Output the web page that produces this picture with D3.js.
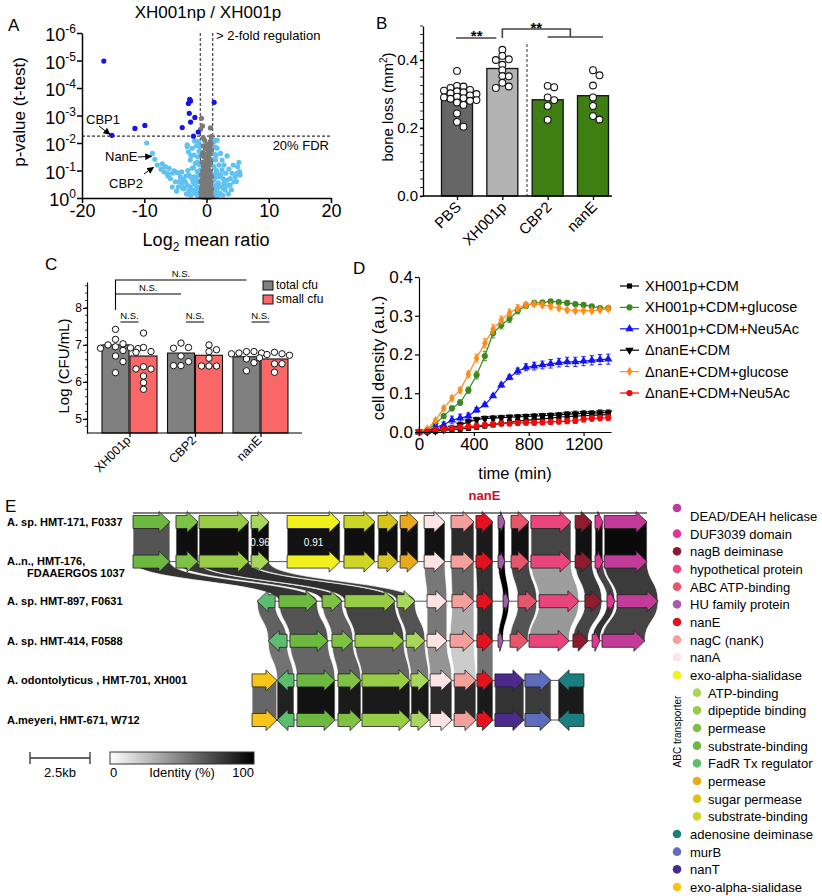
<!DOCTYPE html>
<html><head><meta charset="utf-8">
<script src="https://cdn.jsdelivr.net/npm/d3@7"></script>
<style>body{margin:0;background:#fff}svg{display:block}text{font-family:Arial,"Liberation Sans",sans-serif}</style>
</head><body><svg id="fig" width="822" height="896"></svg>
<script>
// ================= DATA =================
// Panel A: volcano plot  [log2 mean ratio, -log10 p]
const volcanoXTicks = [-20,-10,0,10,20];
const volcanoYTicks = [0,1,2,3,4,5,6];
const foldLines = [-1,1];
const fdrLevel = 2.25;
const volcanoSig = [[-16.5,4.98],[-15.2,2.28],[-11.5,2.53],[-9.9,2.64],[-3.9,2.56],[-2.7,3.59],[-2.56,3.53],[-2.9,3.44],[-2.77,3.08],[-1.87,2.93],[-2.56,2.76],[-1.33,2.4],[-2.1,2.25],[1.23,3.48]];
const volcanoNonSig = [[-9.6,2.0],[-8.7,1.62],[-8.3,1.41],[-7.9,1.2],[-7.1,1.24],[-6.6,1.14],[-6.0,1.08],[-5.2,0.99],[-5.5,0.9],[-4.7,0.92],[-4.2,0.77],[-3.7,0.68],[-3.4,0.59],[-3.1,0.47],[-3.9,0.53],[-2.6,0.41],[-2.3,0.29],[-2.0,0.23],[-1.8,0.17],[-2.8,0.27],[-1.5,0.11],[-3.6,0.35],[-4.5,0.41],[-5.0,0.59],[-6.3,0.9],[-5.8,0.71],[-3.1,1.93],[-2.3,1.81],[-2.9,1.68],[-2.0,1.56],[-2.6,1.38],[-1.8,1.26],[-2.3,1.08],[-1.5,0.96],[-2.0,0.77],[-1.6,0.59],[-2.8,0.84],[-1.9,2.07],[-1.3,2.05],[-1.07,1.87],[1.23,2.11],[1.7,2.1],[-3.1,1.87],[1.17,2.05],[1.7,1.81],[2.24,1.62],[3.3,1.53],[1.44,1.38],[2.0,1.2],[2.5,1.02],[5.0,1.14],[5.3,0.96],[5.4,0.84],[4.6,0.77],[3.8,0.71],[3.3,0.65],[2.8,0.53],[2.2,0.41],[1.7,0.29],[1.44,0.17],[4.4,0.59],[3.8,0.47],[3.0,0.29],[2.2,0.17],[4.9,0.9],[4.1,0.9],[1.2,0.65],[1.7,0.9],[1.2,1.14],[2.5,1.38],[2.0,0.77],[1.2,0.41],[-1.2,0.05],[1.3,0.05],[1.8,0.08],[2.6,0.1],[-1.3,0.3],[-1.2,0.6],[-1.4,1.5],[1.3,1.6],[-4.8,0.25],[-5.5,0.4],[-2.5,0.1],[-3.2,0.15],[3.5,0.15],[4.0,0.3],[-1.1,1.2],[1.1,0.85],
 [-1.2,0.2],[-1.4,0.4],[-1.6,0.35],[-1.9,0.5],[-1.3,0.8],[-1.7,0.7],[-2.2,0.6],[-2.5,0.75],[-1.1,1.0],[-1.5,1.3],[-1.2,1.7],[-2.1,1.1],[-3.3,0.8],[-4.0,0.95],[-3.0,1.0],[1.2,0.25],[1.5,0.45],[1.9,0.55],[1.3,0.75],[1.6,1.0],[2.3,0.85],[2.7,0.7],[3.1,0.9],[3.6,1.05],[1.1,1.4],[1.5,1.55],[2.8,1.2],[4.3,1.2],[5.2,1.3],[-6.8,0.95],[-7.3,1.05],[-6.2,0.8],[-4.4,0.6],[-3.8,0.35],[-2.9,0.15],[2.7,0.35],[3.4,0.45],[4.8,0.6],[-1.6,1.9],[-2.5,1.55],[1.4,1.85]];
const volcanoSmall = [[-0.8,2.9],[-0.64,2.62],[-0.96,2.5],[0.64,2.55],[0.75,2.23],[-0.3,2.1],[0.6,2.05],[0.7,1.95],[0.5,1.85],[-0.5,1.9],[0.8,1.75],[-0.2,1.8],[0.3,1.7],[-0.6,1.65],[0.6,1.6],[0.1,1.55],[-0.4,1.5],[0.4,1.45],[-0.1,1.4],[0.7,1.35],[-0.7,1.3],[0.2,1.3],[-0.3,1.25],[0.5,1.2],[-0.5,1.15],[0.0,1.1],[0.3,1.05],[-0.6,1.0],[0.6,0.98],[-0.2,0.95],[0.1,0.9],[-0.8,0.85],[0.4,0.85],[-0.4,0.8],[0.8,0.78],[0.0,0.75],[-0.6,0.7],[0.5,0.7],[-0.2,0.65],[0.2,0.62],[-0.9,0.6],[0.7,0.58],[-0.5,0.55],[0.35,0.52],[-0.1,0.5],[0.0,0.45],[-0.7,0.45],[0.6,0.42],[-0.3,0.4],[0.3,0.38],[-0.8,0.35],[0.8,0.33],[0.1,0.3],[-0.5,0.3],[0.5,0.27],[-0.2,0.25],[0.2,0.22],[-0.9,0.2],[0.7,0.2],[-0.4,0.18],[0.4,0.15],[0.0,0.15],[-0.6,0.12],[0.6,0.1],[-0.2,0.08],[0.25,0.06],[-0.8,0.05],[0.85,0.05],[-0.4,0.03],[0.45,0.02],[0.05,0.02],[-0.1,0.3],[0.15,0.7],[-0.15,1.2],[0.05,1.6],[-0.25,0.05],[0.3,0.12],[-0.45,1.0],[0.45,0.95],[-0.75,1.55],[0.1,1.95],[-0.55,2.2]];
const volcanoCallouts = [{name:'CBP1',x:-15.2,y:2.28},{name:'NanE',x:-8.5,y:1.48},{name:'CBP2',x:-8.2,y:1.08}];

// Panel B: bone loss
const boneGroups = ['PBS','XH001p','CBP2','nanE'];
const boneMeans = [0.285,0.375,0.283,0.295];
const boneDots = [
 [0.368,0.324,0.322,0.318,0.312,0.31,0.308,0.305,0.302,0.30,0.296,0.292,0.29,0.288,0.286,0.282,0.28,0.275,0.268,0.243,0.218,0.204],
 [0.43,0.412,0.402,0.40,0.386,0.37,0.353,0.352,0.333,0.322,0.318],
 [0.324,0.32,0.29,0.282,0.265,0.224],
 [0.37,0.355,0.325,0.29,0.265,0.235,0.225]];
const boneYTicks = [0,0.2,0.4];

// Panel C: CFU
const cfuGroups = ['XH001p','CBP2','nanE'];
const cfuSeries = ['total cfu','small cfu'];
const cfuTotal = [7.0,6.78,6.68];
const cfuSmall = [6.70,6.72,6.62];
const cfuTotalDots = [[7.42,7.15,7.03,7.0,6.95,6.92,6.91,6.9,6.85,6.7,6.55,6.25],[7.05,6.93,6.91,6.7,6.55,6.44,6.44],[6.82,6.82,6.78,6.78,6.76,6.62,6.52,6.3]];
const cfuSmallDots = [[7.32,6.93,6.82,6.8,6.41,6.35,6.35,6.16,5.98,5.8],[7.0,6.87,6.82,6.64,6.43,6.43,6.43],[6.8,6.76,6.74,6.72,6.65,6.49,6.49,6.26]];
const cfuYTicks = [5,6,7,8];

// Panel D: growth curves
const growthTime = [0,60,120,180,240,300,360,420,480,540,600,660,720,780,840,900,960,1020,1080,1140,1200,1260,1320,1380];
const wtCDM      = [0,0,0.002,0.004,0.006,0.008,0.010,0.013,0.016,0.019,0.022,0.025,0.028,0.030,0.032,0.034,0.036,0.038,0.040,0.041,0.042,0.043,0.044,0.045];
const wtGlucose  = [0,0.004,0.022,0.041,0.061,0.076,0.108,0.147,0.196,0.255,0.276,0.292,0.313,0.326,0.333,0.334,0.337,0.335,0.333,0.330,0.328,0.324,0.320,0.320];
const wtNeu5Ac   = [0,0.002,0.012,0.018,0.031,0.036,0.041,0.057,0.070,0.093,0.121,0.141,0.157,0.167,0.170,0.173,0.176,0.179,0.181,0.181,0.183,0.185,0.187,0.188];
const dnCDM      = [0,0,0.003,0.006,0.010,0.018,0.026,0.032,0.035,0.036,0.037,0.038,0.039,0.040,0.041,0.042,0.043,0.044,0.046,0.047,0.048,0.048,0.050,0.050];
const dnGlucose  = [0,0.008,0.030,0.061,0.087,0.108,0.149,0.191,0.229,0.265,0.289,0.308,0.320,0.328,0.331,0.328,0.324,0.320,0.315,0.313,0.313,0.313,0.315,0.318];
const dnNeu5Ac   = [0,0.002,0.006,0.008,0.010,0.012,0.014,0.016,0.018,0.020,0.022,0.022,0.023,0.024,0.024,0.025,0.026,0.027,0.028,0.029,0.033,0.035,0.036,0.037];
const errGrowth  = [0,0.002,0.004,0.005,0.006,0.007,0.008,0.010,0.012,0.012,0.010,0.009,0.008,0.007,0.006,0.006,0.005,0.005,0.005,0.004,0.004,0.004,0.004,0.004];
const errNeu5Ac  = [0,0.002,0.006,0.008,0.010,0.010,0.008,0.006,0.004,0.004,0.005,0.006,0.008,0.009,0.010,0.010,0.011,0.011,0.012,0.012,0.012,0.012,0.013,0.013];
const errLow     = [0,0.002,0.003,0.004,0.005,0.006,0.006,0.006,0.006,0.006,0.006,0.006,0.006,0.006,0.006,0.006,0.006,0.006,0.006,0.007,0.007,0.007,0.007,0.007];
const growthNames = ['XH001p+CDM','XH001p+CDM+glucose','XH001p+CDM+Neu5Ac','\u0394nanE+CDM','\u0394nanE+CDM+glucose','\u0394nanE+CDM+Neu5Ac'];
const growthXTicks = [0,400,800,1200];
const growthYTicks = [0,0.1,0.2,0.3,0.4];

// Panel E: gene neighbourhoods  [start kb, end kb, strand, type]
const trackNames = [['A. sp. HMT-171, F0337'],['A..n., HMT-176,','FDAAERGOS 1037'],['A. sp. HMT-897, F0631'],['A. sp. HMT-414, F0588'],['A. odontolyticus , HMT-701, XH001'],['A.meyeri, HMT-671, W712']];
const track1Genes = [[0,1.54,1,'sub'],[1.79,2.71,1,'perm'],[2.75,4.83,1,'dip'],[4.92,5.67,1,'atp'],[6.42,8.63,1,'exoY'],[8.79,10.08,1,'subY'],[10.21,11.04,1,'sugar'],[11.13,11.88,1,'permO'],[12.13,13.0,1,'nanA'],[13.25,14.21,1,'nagC'],[14.29,15.0,1,'nanE'],[15.21,15.5,1,'HU'],[15.75,16.5,1,'ABCatp'],[16.58,18.25,1,'hyp'],[18.42,19.13,1,'nagB'],[19.25,19.58,1,'DUF'],[19.63,21.42,1,'DEAD']];
const track2Genes = [[0,1.54,1,'sub'],[1.79,2.71,1,'perm'],[2.75,4.83,1,'dip'],[4.92,5.67,1,'atp'],[6.42,8.63,1,'exoY'],[8.79,10.08,1,'subY'],[10.21,11.04,1,'sugar'],[11.13,11.88,1,'permO'],[12.13,13.0,1,'nanA'],[13.25,14.21,1,'nagC'],[14.29,15.0,1,'nanE'],[15.21,15.5,1,'HU'],[15.75,16.5,1,'ABCatp'],[16.58,18.25,1,'hyp'],[18.42,19.13,1,'nagB'],[19.25,19.58,1,'DUF'],[19.63,21.42,1,'DEAD']];
const track3Genes = [[5.17,5.92,-1,'fadR'],[6.08,7.67,1,'sub'],[7.88,8.71,1,'perm'],[8.83,10.92,1,'dip'],[11.0,11.75,1,'atp'],[12.25,13.08,1,'nanA'],[13.29,14.21,1,'nagC'],[14.33,15.0,1,'nanE'],[15.42,15.67,1,'HU'],[16.04,16.83,1,'ABCatp'],[16.92,18.58,1,'hyp'],[18.83,19.54,1,'nagB'],[19.75,20.08,1,'DUF'],[20.17,21.88,1,'DEAD']];
const track4Genes = [[5.63,6.42,-1,'fadR'],[6.54,8.13,1,'sub'],[8.29,9.17,1,'perm'],[9.25,11.29,1,'dip'],[11.38,12.17,1,'atp'],[12.25,13.08,1,'nanA'],[13.21,14.21,1,'nagC'],[14.33,15.0,1,'nanE'],[15.21,15.42,1,'HU'],[15.71,16.46,1,'ABCatp'],[16.5,18.17,1,'hyp'],[18.33,18.96,1,'nagB'],[19.13,19.46,1,'DUF'],[19.54,21.33,1,'DEAD']];
const track5Genes = [[4.96,6.0,1,'exoO'],[6.0,6.71,-1,'fadR'],[6.83,8.42,1,'sub'],[8.54,9.5,1,'perm'],[9.54,11.54,1,'dip'],[11.58,12.33,1,'atp'],[12.38,13.29,1,'nanA'],[13.38,14.29,1,'nagC'],[14.33,15.0,1,'nanE'],[15.08,16.29,1,'nanT'],[16.33,17.42,1,'murB'],[17.71,18.79,-1,'ada']];
const track6Genes = [[4.96,6.0,1,'exoO'],[6.0,6.71,-1,'fadR'],[6.83,8.42,1,'sub'],[8.54,9.5,1,'perm'],[9.54,11.54,1,'dip'],[11.58,12.33,1,'atp'],[12.38,13.29,1,'nanA'],[13.38,14.29,1,'nagC'],[14.33,15.0,1,'nanE'],[15.08,16.29,1,'nanT'],[16.33,17.42,1,'murB'],[17.71,18.79,-1,'ada']];
// links between consecutive tracks: [upper gene idx, lower gene idx, identity %, label]
const links12 = [[0,0,67],[1,1,94],[2,2,94],[3,3,95,'0.96'],[4,4,93,'0.91'],[5,5,94],[6,6,94],[7,7,94],[8,8,93],[9,9,83],[10,10,90],[11,11,100],[12,12,93],[13,13,73],[14,14,93],[15,15,95],[16,16,96]];
const links23 = [[0,1,80],[1,2,78],[2,3,82],[3,4,75],[8,5,53],[9,6,60],[10,7,80],[11,8,100],[12,9,73],[13,10,38],[14,11,77],[15,12,73],[16,13,77]];
const links34 = [[0,0,62],[1,1,67],[2,2,62],[3,3,73],[4,4,67],[5,5,53],[6,6,33],[7,7,80],[8,8,100],[9,9,67],[10,10,40],[11,11,73],[12,12,80],[13,13,73]];
const links45 = [[0,1,55],[1,2,60],[2,3,62],[3,4,60],[4,5,52],[5,6,42],[6,7,20],[7,8,55]];
const links56 = [[0,0,60],[1,1,87],[2,2,93],[3,3,90],[4,4,90],[5,5,90],[6,6,83],[7,7,83],[8,8,90],[9,9,80],[10,10,77],[11,11,90]];
const legendTypes = ['DEAD','DUF','nagB','hyp','ABCatp','HU','nanE','nagC','nanA','exoY','atp','dip','perm','sub','fadR','permO','sugar','subY','ada','murB','nanT','exoO'];
const legendLabels = ['DEAD/DEAH helicase','DUF3039 domain','nagB deiminase','hypothetical protein','ABC ATP-binding','HU family protein','nanE','nagC (nanK)','nanA','exo-alpha-sialidase','ATP-binding','dipeptide binding','permease','substrate-binding','FadR Tx regulator','permease','sugar permease','substrate-binding','adenosine deiminase','murB','nanT','exo-alpha-sialidase'];
const abcTransporterTypes = ['atp','dip','perm','sub','fadR','permO','sugar','subY'];
const scaleBarKb = 2.5;
const identityTicks = ['0','Identity (%)','100'];

// ================= STYLES =================
const geneColors = {DEAD:'#c23b98',DUF:'#e23590',nagB:'#8e1b2e',hyp:'#e8457c',ABCatp:'#e5566a',HU:'#a55aa8',nanE:'#e4111f',nagC:'#f3a09c',nanA:'#fde3e3',exoY:'#eff01e',atp:'#a8d65c',dip:'#98cc46',perm:'#7dc244',sub:'#6cb840',fadR:'#5dbd6f',permO:'#e9a91d',sugar:'#d8c51b',subY:'#ccd628',ada:'#1b7f80',murB:'#5e6cbc',nanT:'#4b2a8b',exoO:'#f7c51a'};
const svg = d3.select('#fig');
svg.append('rect').attr('width',822).attr('height',896).attr('fill','#fff');
const defs = svg.append('defs');
defs.append('marker').attr('id','ah').attr('viewBox','0 0 10 10').attr('refX',9).attr('refY',5)
  .attr('markerWidth',7).attr('markerHeight',7).attr('orient','auto')
  .append('path').attr('d','M0,0L10,5L0,10Z').attr('fill','#000');

function styleAxis(g, fs, sw){
  g.select('.domain').attr('stroke','#000').attr('stroke-width',sw);
  g.selectAll('.tick line').attr('stroke','#000').attr('stroke-width',sw);
  g.selectAll('.tick text').attr('font-size',fs).attr('fill','#000').attr('font-family','Arial, "Liberation Sans", sans-serif');
}
function label(x,y,t,fs,opts={}){
  const e = svg.append('text').attr('x',x).attr('y',y).attr('font-size',fs).attr('fill',opts.fill||'#000').text(t);
  if(opts.anchor) e.attr('text-anchor',opts.anchor);
  if(opts.weight) e.attr('font-weight',opts.weight);
  if(opts.rot!==undefined) e.attr('transform',`rotate(${opts.rot},${x},${y})`);
  return e;
}
function swarm(values, yScale, cx, r, step, minD){
  const placed=[];
  const cands=[0]; for(let i=1;i<10;i++){cands.push(i*step,-i*step);}
  return values.map(v=>{
    const y=yScale(v); let x=cx;
    for(const dx of cands){ x=cx+dx; if(placed.every(p=>Math.hypot(p.x-x,p.y-y)>=minD)) break; }
    placed.push({x,y}); return {x,y};
  });
}

// ================= PANEL A =================
label(8,31,'A',17);
const ax = d3.scaleLinear().domain([-20,20]).range([82,331]);
const ay = d3.scaleLinear().domain([0,6]).range([198,33]);
const gA = svg.append('g');
gA.selectAll('line.v').data(foldLines).join('line').attr('x1',d=>ax(d)).attr('x2',d=>ax(d)).attr('y1',ay(6)).attr('y2',ay(0))
  .attr('stroke','#333').attr('stroke-width',1.1).attr('stroke-dasharray','3,2');
gA.append('line').attr('x1',ax(-20)).attr('x2',ax(20)).attr('y1',ay(fdrLevel)).attr('y2',ay(fdrLevel))
  .attr('stroke','#333').attr('stroke-width',1.1).attr('stroke-dasharray','3,2');
gA.append('g').selectAll('circle').data(volcanoNonSig).join('circle').attr('cx',d=>ax(d[0])).attr('cy',d=>ay(d[1])).attr('r',2.6).attr('fill','#5fc2f2');
gA.append('g').selectAll('circle').data(volcanoSmall).join('circle').attr('cx',d=>ax(d[0])).attr('cy',d=>ay(d[1])).attr('r',2.6).attr('fill','#7a7a7a');
gA.append('g').selectAll('circle').data(volcanoSig).join('circle').attr('cx',d=>ax(d[0])).attr('cy',d=>ay(d[1])).attr('r',2.6).attr('fill','#1414e6');
const gAx = gA.append('g').attr('transform',`translate(0,${ay(0)})`)
  .call(d3.axisBottom(ax).tickValues(volcanoXTicks).tickSize(5).tickPadding(1).tickSizeOuter(0).tickFormat(d=>String(d)));
styleAxis(gAx,18,1.5);
const gAy = gA.append('g').attr('transform',`translate(${ax(-20)},0)`)
  .call(d3.axisLeft(ay).tickValues(volcanoYTicks).tickSize(5).tickSizeOuter(0).tickFormat(''));
styleAxis(gAy,18,1.5);
volcanoYTicks.forEach(k=>{
  const t = gA.append('text').attr('x',ax(-20)-6).attr('y',ay(k)+8).attr('text-anchor','end').attr('font-size',18);
  t.append('tspan').text('10');
  t.append('tspan').attr('font-size',12).attr('dy',-8).text(k===0?'0':'-'+k);
});
label(208,18,'XH001np / XH001p',17,{anchor:'middle'});
label(216,40,'> 2-fold regulation',13);
label(329,150,'20% FDR',13,{anchor:'end'});
const xl = label(206,246,'',18,{anchor:'middle'});
xl.append('tspan').text('Log');
xl.append('tspan').attr('font-size',12).attr('dy',5).text('2');
xl.append('tspan').attr('dy',-5).text(' mean ratio');
label(25,112,'p-value (t-test)',17,{anchor:'middle',rot:-90});
const co = {CBP1:{tx:86,ty:124,ax:[99,126]}, NanE:{tx:105,ty:161,ax:[138,157]}, CBP2:{tx:109,ty:188,ax:[144,174]}};
volcanoCallouts.forEach(c=>{
  const o = co[c.name];
  label(o.tx,o.ty,c.name,13);
  gA.append('line').attr('x1',o.ax[0]).attr('y1',o.ax[1]).attr('x2',ax(c.x)-2).attr('y2',ay(c.y)-1)
    .attr('stroke','#000').attr('stroke-width',1).attr('marker-end','url(#ah)');
});

// ================= PANEL B =================
label(376,29,'B',17);
const bx = d3.scalePoint().domain(boneGroups).range([457,593]);
const by = d3.scaleLinear().domain([0,0.5]).range([196,26]);
const boneColors = ['#666666','#b3b3b3','#3f7e12','#3f7e12'];
const gB = svg.append('g');
gB.selectAll('rect').data(boneMeans).join('rect')
  .attr('x',(d,i)=>bx(boneGroups[i])-15.5).attr('width',31).attr('y',d=>by(d)).attr('height',d=>by(0)-by(d))
  .attr('fill',(d,i)=>boneColors[i]).attr('stroke','#111').attr('stroke-width',1.3);
boneDots.forEach((vals,i)=>{
  const pts = swarm(vals.slice().sort((a,b)=>b-a), by, bx(boneGroups[i]), 3.4, 6.5, 5.2);
  gB.append('g').selectAll('circle').data(pts).join('circle').attr('cx',d=>d.x).attr('cy',d=>d.y).attr('r',3.4)
    .attr('fill','#fff').attr('stroke','#111').attr('stroke-width',1.1);
});
gB.append('line').attr('x1',(bx('XH001p')+bx('CBP2'))/2+2).attr('x2',(bx('XH001p')+bx('CBP2'))/2+2).attr('y1',44).attr('y2',by(0))
  .attr('stroke','#444').attr('stroke-width',1.1).attr('stroke-dasharray','3,2');
const by0 = gB.append('g').attr('transform',`translate(423,0)`)
  .call(d3.axisLeft(by).tickValues(boneYTicks).tickSize(3).tickPadding(2).tickSizeOuter(0).tickFormat(d3.format('.1f')));
styleAxis(by0,15,1.3);
gB.append('g').selectAll('line').data(d3.range(0,0.501,0.025)).join('line')
  .attr('x1',420).attr('x2',423).attr('y1',d=>by(d)).attr('y2',d=>by(d)).attr('stroke','#000').attr('stroke-width',0.8);
const bx0 = gB.append('g').attr('transform',`translate(0,${by(0)})`)
  .call(d3.axisBottom(bx).tickSize(4).tickSizeOuter(0).tickFormat(''));
bx0.select('.domain').attr('d',`M423,0H612`);
styleAxis(bx0,15,1.3);
boneGroups.forEach(g=>label(bx(g)+5,208,g,15,{anchor:'end',rot:-45}));
const bl = label(393,107,'',15,{anchor:'middle',rot:-90});
bl.append('tspan').text('bone loss (mm');
bl.append('tspan').attr('font-size',10).attr('dy',-6).text('2');
bl.append('tspan').attr('dy',6).text(')');
gB.append('line').attr('x1',bx('PBS')-1).attr('x2',bx('XH001p')-6).attr('y1',38).attr('y2',38).attr('stroke','#444').attr('stroke-width',1.6);
label((bx('PBS')+bx('XH001p'))/2-3,41,'**',15,{anchor:'middle',weight:'bold'});
const midCN = (bx('CBP2')+bx('nanE'))/2;
gB.append('path').attr('d',`M${bx('XH001p')},38V29H${midCN}V37`).attr('fill','none').attr('stroke','#444').attr('stroke-width',1.6);
gB.append('line').attr('x1',bx('CBP2')).attr('x2',bx('nanE')+10).attr('y1',37).attr('y2',37).attr('stroke','#444').attr('stroke-width',1.6);
label((bx('XH001p')+midCN)/2,33,'**',15,{anchor:'middle',weight:'bold'});

// ================= PANEL C =================
label(45,270,'C',17);
const cx = d3.scalePoint().domain(cfuGroups).range([129.5,260.5]);
const cy = d3.scaleLinear().domain([4.62,8.7]).range([433,282]);
const cfuColors = ['#808080','#fa6767'];
const gC = svg.append('g');
[cfuTotal,cfuSmall].forEach((arr,s)=>{
  gC.append('g').selectAll('rect').data(arr).join('rect')
    .attr('x',(d,i)=>cx(cfuGroups[i])+(s===0?-27.5:0.5)).attr('width',27)
    .attr('y',d=>cy(d)).attr('height',d=>cy(4.62)-cy(d)).attr('fill',cfuColors[s]).attr('stroke','#111').attr('stroke-width',1.1);
});
[cfuTotalDots,cfuSmallDots].forEach((grp,s)=>{
  grp.forEach((vals,i)=>{
    const pts = swarm(vals.slice().sort((a,b)=>b-a), cy, cx(cfuGroups[i])+(s===0?-14:14), 3.2, 7.5, 6.2);
    gC.append('g').selectAll('circle').data(pts).join('circle').attr('cx',d=>d.x).attr('cy',d=>d.y).attr('r',3.2)
      .attr('fill','#fff').attr('stroke','#111').attr('stroke-width',1);
  });
});
const cyA = gC.append('g').attr('transform','translate(87,0)')
  .call(d3.axisLeft(cy).tickValues(cfuYTicks).tickSize(4).tickPadding(1).tickSizeOuter(0).tickFormat(d3.format('d')));
styleAxis(cyA,12,1.2);
gC.append('g').selectAll('line').data(d3.range(4.8,8.61,0.2)).join('line')
  .attr('x1',85).attr('x2',87).attr('y1',d=>cy(d)).attr('y2',d=>cy(d)).attr('stroke','#000').attr('stroke-width',0.8);
const cxA = gC.append('g').attr('transform',`translate(0,${cy(4.62)})`)
  .call(d3.axisBottom(cx).tickSize(4).tickSizeOuter(0).tickFormat(''));
cxA.select('.domain').attr('d','M87,0H302');
styleAxis(cxA,12,1.2);
cfuGroups.forEach(g=>label(cx(g)+2,441,g,12.5,{anchor:'end',rot:-45}));
label(69,366,'Log (CFU/mL)',15,{anchor:'middle',rot:-90});
cfuGroups.forEach(g=>{
  label(cx(g),319,'N.S.',9.5,{anchor:'middle'});
  gC.append('line').attr('x1',cx(g)-9).attr('x2',cx(g)+9).attr('y1',322).attr('y2',322).attr('stroke','#000').attr('stroke-width',1);
});
const tX = cx('XH001p')-14, tC = cx('CBP2')-14, tN = cx('nanE')-14;
gC.append('path').attr('d',`M${tX},310V280H${tN}M${tX},294H${tC}`).attr('fill','none').attr('stroke','#000').attr('stroke-width',1.1);
label((tX+tN)/2,277,'N.S.',9.5,{anchor:'middle'});
label((tX+tC)/2,291,'N.S.',9.5,{anchor:'middle'});
cfuSeries.forEach((s,i)=>{
  gC.append('rect').attr('x',263).attr('y',281+i*14).attr('width',10).attr('height',9).attr('fill',cfuColors[i]).attr('stroke','#111').attr('stroke-width',1);
  label(276,289+i*14,s,12);
});

// ================= PANEL D =================
label(353,274,'D',17);
const dx = d3.scaleLinear().domain([0,1400]).range([419,611]);
const dy = d3.scaleLinear().domain([0,0.4]).range([432,277]);
const gD = svg.append('g');
const series = [
  {v:wtCDM,e:errLow,c:'#000000',sym:d3.symbolSquare,sz:26},
  {v:wtGlucose,e:errGrowth,c:'#3c8a1f',sym:d3.symbolCircle,sz:30},
  {v:wtNeu5Ac,e:errNeu5Ac,c:'#1414f0',sym:d3.symbolTriangle,sz:30},
  {v:dnCDM,e:errLow,c:'#000000',sym:d3.symbolTriangle,sz:30,rot:180},
  {v:dnGlucose,e:errGrowth,c:'#ff8c1a',sym:d3.symbolDiamond,sz:26},
  {v:dnNeu5Ac,e:errLow,c:'#f20a0a',sym:d3.symbolCircle,sz:30}];
series.forEach(s=>{
  const g = gD.append('g');
  g.append('path').datum(s.v).attr('fill','none').attr('stroke',s.c).attr('stroke-width',1.2)
    .attr('d',d3.line().x((d,i)=>dx(growthTime[i])).y(d=>dy(d)));
  growthTime.forEach((t,i)=>{
    const x=dx(t), y1=dy(s.v[i]+s.e[i]), y2=dy(Math.max(0,s.v[i]-s.e[i]));
    g.append('path').attr('d',`M${x},${y1}V${y2}M${x-2.2},${y1}H${x+2.2}M${x-2.2},${y2}H${x+2.2}`).attr('stroke',s.c).attr('stroke-width',0.9).attr('fill','none');
  });
  g.selectAll('path.m').data(s.v).join('path').attr('class','m')
    .attr('d',d3.symbol().type(s.sym).size(s.sz))
    .attr('transform',(d,i)=>`translate(${dx(growthTime[i])},${dy(d)})rotate(${s.rot||0})`).attr('fill',s.c);
});
const dyA = gD.append('g').attr('transform',`translate(${dx(0)},0)`)
  .call(d3.axisLeft(dy).tickValues(growthYTicks).tickSize(4).tickPadding(2).tickSizeOuter(0).tickFormat(d3.format('.1f')));
styleAxis(dyA,17,1.2);
const dxA = gD.append('g').attr('transform',`translate(0,${dy(0)})`)
  .call(d3.axisBottom(dx).tickValues(growthXTicks).tickSize(4).tickPadding(2).tickSizeOuter(0).tickFormat(d=>String(d)));
styleAxis(dxA,17,1.2);
label(515,479,'time (min)',16.5,{anchor:'middle'});
label(384,358,'cell density (a.u.)',16.5,{anchor:'middle',rot:-90});
growthNames.forEach((n,i)=>{
  const y = 286+i*21.4, s=series[i];
  gD.append('line').attr('x1',620).attr('x2',639).attr('y1',y).attr('y2',y).attr('stroke',s.c).attr('stroke-width',1.2);
  gD.append('path').attr('d',d3.symbol().type(s.sym).size(s.sz)).attr('transform',`translate(629.5,${y})rotate(${s.rot||0})`).attr('fill',s.c);
  label(645,y+5,n,14.5);
});

// ================= PANEL E =================
label(5,512,'E',17);
const gx = d3.scaleLinear().domain([0,1]).range([133,157]);
const ty = d3.scalePoint().domain(d3.range(6)).range([522,720]);
const idColor = d3.scaleLinear().domain([0,100]).range(['#ffffff','#000000']);
const trackGenes = [track1Genes,track2Genes,track3Genes,track4Genes,track5Genes,track6Genes];
const allLinks = [links12,links23,links34,links45,links56];
const gE = svg.append('g');
function ribbon(a1,a2,y1,b1,b2,y2){
  const m=(y1+y2)/2;
  return `M${a1},${y1}L${a2},${y1}C${a2},${m} ${b2},${m} ${b2},${y2}L${b1},${y2}C${b1},${m} ${a1},${m} ${a1},${y1}Z`;
}
allLinks.forEach((links,t)=>{
  links.forEach(l=>{
    const u=trackGenes[t][l[0]], w=trackGenes[t+1][l[1]];
    gE.append('path').attr('d',ribbon(gx(u[0]),gx(u[1]),ty(t),gx(w[0]),gx(w[1]),ty(t+1)))
      .attr('fill',idColor(l[2])).attr('stroke','#fff').attr('stroke-width',0.8).attr('stroke-opacity',0.9);
    if(l[3]) label((gx(u[0])+gx(u[1]))/2,(ty(t)+ty(t+1))/2+4,l[3],10,{anchor:'middle',fill:'#fff'});
  });
});
trackGenes.forEach((genes,t)=>{
  const y = t===0 ? ty(t)-9 : ty(t);
  gE.append('line').attr('x1',gx(d3.min(genes,g=>g[0]))).attr('x2',gx(d3.max(genes,g=>g[1]))).attr('y1',y).attr('y2',y)
    .attr('stroke','#555').attr('stroke-width',t===0?1.6:1);
});
function arrow(x1,x2,y,strand){
  const len=x2-x1, hl=Math.min(11,len*0.65), bh=6.5, hh=10.5;
  if(strand>0) return `M${x1},${y-bh}L${x2-hl},${y-bh}L${x2-hl},${y-hh}L${x2},${y}L${x2-hl},${y+hh}L${x2-hl},${y+bh}L${x1},${y+bh}Z`;
  return `M${x2},${y-bh}L${x1+hl},${y-bh}L${x1+hl},${y-hh}L${x1},${y}L${x1+hl},${y+hh}L${x1+hl},${y+bh}L${x2},${y+bh}Z`;
}
trackGenes.forEach((genes,t)=>{
  gE.append('g').selectAll('path').data(genes).join('path')
    .attr('d',g=>arrow(gx(g[0]),gx(g[1]),ty(t),g[2])).attr('fill',g=>geneColors[g[3]])
    .attr('stroke','#222').attr('stroke-width',0.8).attr('stroke-linejoin','miter');
});
trackNames.forEach((nm,t)=>{
  if(nm.length===1) label(7,ty(t)+4,nm[0],11,{weight:'bold'});
  else { label(7,ty(t)+3,nm[0],11,{weight:'bold'}); label(27,ty(t)+15,nm[1],11,{weight:'bold'}); }
});
const nanEGene = track1Genes.find(g=>g[3]==='nanE');
label((gx(nanEGene[0])+gx(nanEGene[1]))/2,500,'nanE',13,{anchor:'middle',weight:'bold',fill:'#c8102e'});
const sb0=30, sb1=30+(gx(scaleBarKb)-gx(0));
gE.append('path').attr('d',`M${sb0},758H${sb1}M${sb0},752V764M${sb1},752V764`).attr('stroke','#333').attr('stroke-width',1.3).attr('fill','none');
label((sb0+sb1)/2,777,scaleBarKb+'kb',13,{anchor:'middle'});
const grad = defs.append('linearGradient').attr('id','idg');
grad.append('stop').attr('offset','0%').attr('stop-color',idColor(0));
grad.append('stop').attr('offset','100%').attr('stop-color',idColor(100));
gE.append('rect').attr('x',110).attr('y',752).attr('width',144).attr('height',12).attr('fill','url(#idg)').attr('stroke','#333').attr('stroke-width',1);
label(110,777,identityTicks[0],13);
label(182,777,identityTicks[1],13,{anchor:'middle'});
label(254,777,identityTicks[2],13,{anchor:'end'});
const ly = d3.scaleLinear().domain([0,21]).range([516,887]);
legendTypes.forEach((tp,i)=>{
  const abc = abcTransporterTypes.includes(tp);
  const y = ly(i);
  gE.append('circle').attr('cx',abc?697:677).attr('cy',i===0?y-8:y).attr('r',4.3).attr('fill',geneColors[tp]);
  label(abc?708:690,y+5,legendLabels[i],13);
});
label(681,ly(12.2),'ABC transporter',10,{anchor:'middle',rot:-90});
</script></body></html>
